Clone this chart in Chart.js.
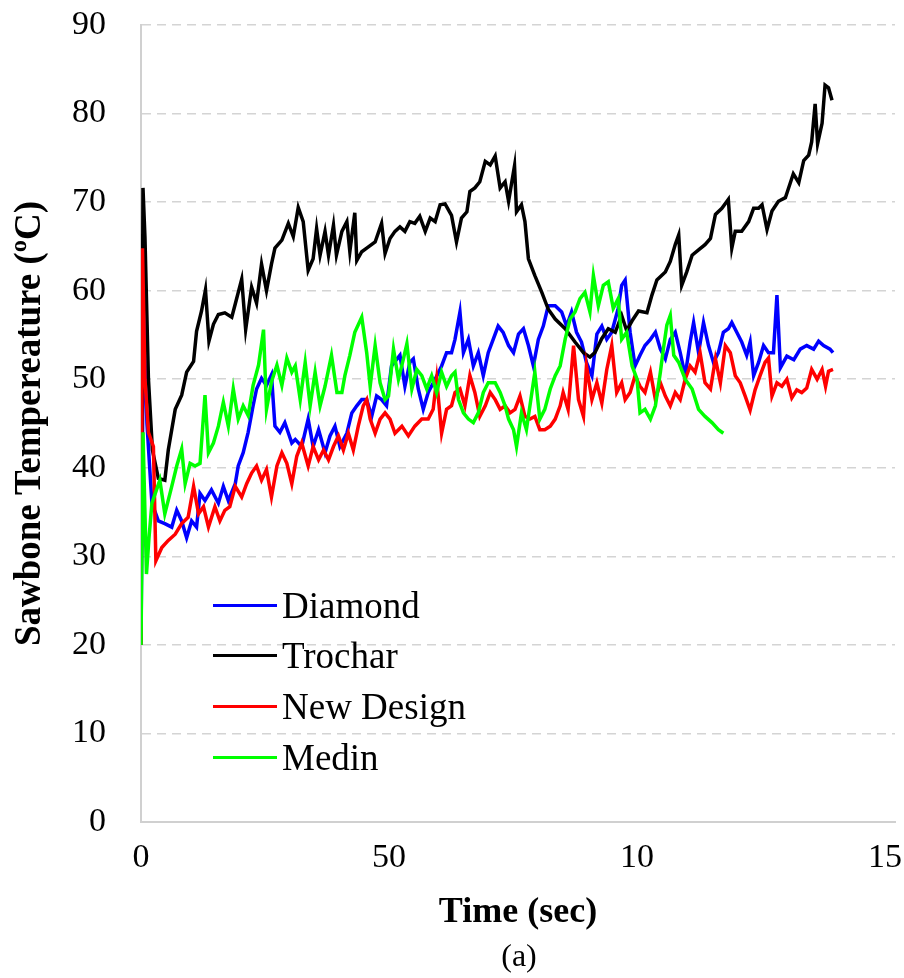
<!DOCTYPE html>
<html>
<head>
<meta charset="utf-8">
<script src="https://cdn.jsdelivr.net/npm/chart.js@4.4.1/dist/chart.umd.min.js"></script>
<style>
  body { margin: 0; background: #fff; }
  #wrap { position: relative; width: 904px; height: 978px; }
  #chart { position: absolute; left: 0; top: 0; }
  .leg { position: absolute; left: 213px; height: 50px; display: flex; align-items: center;
         font-family: "Liberation Serif", "Times New Roman", serif; font-size: 37px; color: #000; }
  .leg span.sw { display: inline-block; width: 64px; height: 3px; margin-right: 5px; }
  #cap { position: absolute; left: 0; width: 1038px; top: 936px; text-align: center;
         font-family: "Liberation Serif", "Times New Roman", serif; font-size: 32px; line-height: 38px; }
</style>
</head>
<body>
<div id="wrap">
  <canvas id="chart" width="904" height="978"></canvas>
  <div id="legend"></div>
  <div id="cap">(a)</div>
</div>
<script>
// x axis ticks (the picture labels 100 and 150 as "10" and "15")
const xTickValues = [0, 50, 100, 150];
const xTickLabels = ["0", "50", "10", "15"];

const seriesNames = ["Diamond", "Trochar", "New Design", "Medin"];
const seriesColors = ["#0000ff", "#000000", "#ff0000", "#00ff00"];

const diamondTime = [0, 0.5, 1.2, 2.2, 3.5, 4.8, 6.2, 7.2, 8.2, 9.2, 10.2, 11.2, 11.9, 12.9, 14.2, 15.6, 16.6, 17.6, 19.0, 19.6, 20.6, 21.6, 22.6, 23.3, 24.3, 25.3, 26.3, 27.0, 28.0, 29.0, 30.4,
  31.1, 32.4, 33.7, 34.7, 35.8, 37.1, 38.1, 39.1, 40.1, 41.5, 42.5, 43.5, 44.5, 45.5, 46.5, 47.5, 48.5, 49.5, 50.5, 52.2, 53.2, 54.2, 54.9, 55.9, 56.9, 57.9, 59.3, 60.6, 61.6, 62.6,
  63.3, 64.3, 65.0, 66.0, 67.0, 68.0, 69.0, 70.0, 71.0, 72.0, 73.0, 74.1, 75.1, 76.1, 77.1, 78.1, 79.1, 80.1, 81.1, 82.1, 83.5, 84.8, 85.8, 86.8, 87.8, 88.8, 89.8, 90.9, 91.9, 92.9, 93.9, 94.9, 96.2,
  96.9, 97.6, 98.6, 99.6, 100.6, 101.6, 102.7, 103.7, 104.7, 105.7, 106.7, 107.7, 108.7, 109.7, 110.7, 111.4, 112.4, 113.4, 114.4, 115.4, 116.4, 117.4, 118.4, 119.1, 120.1, 121.1, 122.1, 122.8, 123.5, 124.5, 125.5, 126.5, 127.5, 128.2, 128.9,
  130.2, 131.6, 132.9, 134.2, 135.6, 136.6, 137.6, 138.9, 139.5];
const diamondTemp = [20, 58, 45, 36, 34, 33.7, 33.3, 35.2, 34, 32.1, 34, 33.3, 37.1, 36.3, 37.5, 36, 37.9, 36.3, 38.2, 40.2, 41.7, 44, 47, 48.9, 50.1, 49.3, 50.5, 44.7, 44, 45.1, 42.8,
  43.2, 42.4, 45.5, 42.4, 44.3, 41.7, 43.6, 44.7, 42.4, 43.9, 46.2, 47, 47.7, 47.7, 45.8, 48.1, 47.7, 47, 51.5, 52.7, 49.2, 51.9, 52.3, 48.9, 46.6, 48.5, 50, 51.5, 53, 53,
  54.5, 57.6, 53, 54.5, 51.5, 53, 50.4, 53, 54.5, 56, 55.3, 53.8, 53, 55.1, 55.7, 53.8, 51.5, 54.5, 56, 58.3, 58.3, 57.6, 56, 57.6, 55.3, 54.2, 51.9, 50.4, 55.1, 56, 54.5, 55.3, 58,
  60.6, 61.2, 55.3, 51.5, 52.7, 53.8, 54.5, 55.3, 53.4, 52.3, 54.5, 55.3, 53, 50.4, 54.2, 56.4, 53, 56.4, 53.8, 51.9, 53, 55.3, 55.7, 56.4, 55.3, 54.2, 52.7, 54.2, 50.4, 51.9, 53.8, 53, 53, 59.5, 51.3,
  52.6, 52.2, 53.4, 53.8, 53.4, 54.3, 53.8, 53.4, 53];

const trocharTime = [0, 0.4, 0.8, 1.5, 2.3, 3.5, 4.8, 5.5, 6.9, 8.2, 9.2, 10.6, 11.2, 12.2, 13.0, 13.7, 14.6, 15.6, 16.9, 18.3, 19.0, 20.3, 21.1, 22.3, 23.3, 24.3, 25.3, 26.3, 27.0, 28.4, 29.7, 30.7, 31.7,
  32.7, 33.7, 34.7, 35.4, 36.1, 37.1, 37.8, 38.8, 39.4, 40.5, 41.5, 42.1, 43.1, 43.5, 44.5, 45.5, 47.2, 48.5, 49.2, 50.2, 51.2, 52.2, 53.2, 54.2, 55.2, 56.2, 57.3, 58.3, 59.3, 60.3, 61.3, 62.6, 63.6, 64.6,
  65.7, 66.3, 67.3, 68.3, 69.4, 70.4, 71.4, 72.4, 73.4, 74.1, 75.3, 75.7, 76.7, 77.4, 78.1, 79.4, 80.8, 82.1, 83.5, 85.5, 87.5, 89.2, 90.5, 91.5, 92.9, 94.2, 95.6, 96.9,
  97.9, 99.0, 100.3, 102.0, 103.0, 104.0, 105.7, 106.7, 107.7, 108.4, 109.0, 110.0, 111.1, 112.4, 113.7, 114.8, 115.8, 117.1, 118.4, 119.1, 119.8, 121.1, 122.5, 123.5, 124.5, 125.2, 126.2, 127.2, 128.5, 129.9,
  131.5, 132.6, 133.6, 134.6, 135.2, 135.9, 136.4, 137.3, 137.9, 138.6, 139.3];
const trocharTemp = [20, 71.6, 66, 50, 42, 38.8, 38.6, 42, 46.6, 48.2, 50.8, 52, 55.4, 57.7, 60.1, 54.3, 56.2, 57.3, 57.5, 57, 58.5, 61.3, 55.6, 60.4, 58.6, 63, 60, 63, 64.8, 65.7, 67.6, 66.1, 69.4,
  67.8, 62.3, 63.6, 67, 64, 66.7, 64, 67.4, 64, 66.7, 67.8, 64.4, 68.8, 63.4, 64.4, 64.8, 65.5, 67.6, 64.2, 65.9, 66.7, 67.2, 66.7, 67.8, 67.6, 68.4, 66.7, 68.2, 67.8, 69.7, 69.8, 68.5, 65.5, 68.2,
  68.9, 71.2, 71.6, 72.3, 74.6, 74.2, 75.2, 71.6, 72.3, 70.1, 74.1, 68.9, 69.7, 67.8, 63.6, 61.7, 59.8, 57.9, 56.8, 55.7, 54.2, 53, 52.5, 53, 54.6, 55.7, 55.3, 57.2,
  55.5, 56.6, 57.7, 57.5, 59.5, 61.2, 62.1, 63.3, 65.2, 66.3, 60.6, 62.1, 64, 64.6, 65.2, 65.9, 68.6, 69.3, 70.3, 64.8, 66.7, 66.7, 67.8, 69.3, 69.3, 69.7, 66.9, 69, 70.1, 70.5,
  73.2, 72.2, 74.7, 75.3, 76.8, 81.1, 76.6, 78.9, 83.2, 82.9, 81.5];

const newDesignTime = [0, 0.3, 0.8, 1.5, 2.5, 3.0, 4.2, 5.5, 6.9, 8.2, 9.5, 10.6, 11.6, 12.6, 13.6, 14.9, 15.9, 16.9, 17.9, 19.0, 20.3, 21.3, 22.3, 23.3, 24.3, 25.3, 26.3, 27.4, 28.4, 29.4, 30.4, 31.4, 32.4,
  33.7, 34.7, 35.8, 36.8, 37.8, 38.8, 39.8, 40.8, 41.8, 42.8, 43.8, 44.8, 45.5, 46.2, 47.2, 48.2, 49.2, 50.2, 51.2, 52.6, 53.9, 55.2, 56.6, 57.9, 58.9, 59.6, 60.6, 61.6, 62.6,
  63.3, 64.3, 65.3, 66.3, 67.3, 68.3, 69.4, 70.4, 71.4, 72.4, 73.4, 74.4, 75.4, 76.4, 77.4, 78.4, 79.4, 80.4, 81.4, 82.5, 83.5, 84.5, 85.1, 86.1, 87.2, 88.2, 89.2, 89.8, 90.9, 91.9, 92.9, 93.9, 94.9, 95.9, 96.9,
  97.6, 98.6, 99.6, 100.6, 101.6, 102.7, 103.7, 104.7, 105.7, 106.7, 107.7, 108.7, 109.7, 110.7, 111.7, 112.7, 113.7, 114.8, 115.8, 116.8, 117.8, 118.8, 119.8,
  120.8, 121.8, 122.8, 123.8, 124.8, 125.8, 126.5, 127.2, 128.2, 129.2, 130.2, 131.2, 132.2, 133.2, 134.2, 135.2, 136.3, 137.3, 138.0, 138.6, 139.5];
const newDesignTemp = [20, 64.8, 50, 44, 42.4, 29.5, 31, 31.8, 32.5, 33.7, 34.4, 37.9, 34.8, 35.6, 33.3, 35.6, 34, 35.2, 35.6, 37.9, 36.7, 38.2, 39.4, 40.2, 38.6, 39.8, 36.7, 40.2, 41.7, 40.5, 38.2, 41.3, 42.8,
  40.2, 42.4, 40.9, 42, 40.9, 42.4, 43.6, 42, 43.9, 42, 44.7, 47, 47.7, 45.5, 43.9, 45.5, 46.2, 45.5, 43.9, 44.7, 43.6, 44.7, 45.5, 45.5, 46.6, 50, 43.9, 46.6, 47,
  48.5, 48.9, 47, 50.4, 48.5, 45.8, 47, 48.5, 47.7, 46.6, 47, 46.2, 46.6, 48.1, 45.8, 45.5, 45.8, 44.3, 44.3, 44.7, 45.5, 47, 48.5, 46.6, 53.8, 47.7, 45.8, 51.5, 47.7, 49.6, 47.3, 51.1, 53.8, 48.5, 49.6,
  47.7, 48.5, 50.4, 49.2, 48.5, 50.8, 47.7, 49.6, 48.1, 47, 48.5, 47.7, 50, 51.5, 50.8, 53, 49.6, 48.9, 52.3, 49.6, 53.8, 53, 50.4,
  49.6, 48.1, 46.5, 48.8, 50.4, 51.9, 52.4, 48.1, 49.6, 49.2, 50, 47.9, 48.8, 48.5, 49, 51.1, 50, 51.1, 49.2, 50.9, 51.1];

const medinTime = [0, 0.4, 1.1, 1.6, 2.2, 3.8, 4.8, 6.2, 7.2, 8.2, 8.9, 9.9, 10.9, 11.9, 12.9, 13.6, 14.6, 15.6, 16.6, 17.6, 18.6, 19.6, 20.6, 21.6, 22.6, 23.7, 24.7, 25.3, 26.3, 27.4, 28.4, 29.4, 30.4,
  31.1, 32.1, 33.1, 34.1, 35.1, 36.1, 37.1, 38.4, 39.5, 40.5, 41.1, 42.1, 43.1, 44.5, 45.5, 46.2, 47.2, 48.2, 49.2, 49.9, 50.9, 51.9, 52.9, 53.6, 54.6, 55.6, 56.6, 57.6, 58.6, 59.6, 60.6, 61.6, 62.6, 63.3,
  64.0, 65.0, 66.0, 67.0, 68.0, 69.0, 70.0, 71.4, 72.4, 73.4, 74.1, 75.1, 75.7, 76.7, 77.7, 78.8, 79.4, 80.4, 81.4, 82.5, 83.5, 84.5, 85.5, 86.5, 87.5, 88.5, 89.5, 90.5, 91.2, 92.2, 93.2, 94.2, 95.2, 96.2, 96.9,
  97.9, 99.0, 100.0, 100.6, 101.6, 102.7, 103.7, 104.7, 105.3, 106.0, 106.7, 107.4, 108.4, 109.7, 111.1, 112.4, 113.7, 115.1, 116.4, 117.4];
const medinTemp = [20, 44, 28, 32, 36, 38.6, 34.8, 37.9, 40.2, 42.1, 38.2, 40.5, 40.2, 40.5, 48.2, 41.7, 42.8, 44.7, 47.4, 44.7, 48.9, 45.5, 47, 45.9, 49.3, 51.6, 55.6, 46.6, 49.7, 51.6, 49.3, 52.4, 50.8,
  51.5, 47.7, 51.9, 47, 50.8, 47, 49.2, 52.7, 48.5, 48.5, 50.4, 52.7, 55.3, 57, 53, 49.2, 53.8, 49.6, 47.7, 48.1, 53.4, 50, 52.3, 54, 48.9, 51.1, 50.4, 48.9, 50.4, 48.5, 50.8, 49.2, 50.4, 50.8,
  47.7, 46.2, 45.5, 45.1, 46.2, 48.5, 49.6, 49.6, 48.5, 47, 45.5, 44.3, 42.4, 46.2, 44.3, 48.5, 50.8, 45.5, 46.6, 48.9, 50.4, 51.5, 54.5, 56.8, 57.6, 59.1, 59.8, 57.6, 61.7, 58.3, 60.6, 61, 58, 59.1, 54.5,
  55.3, 51.5, 50, 46.2, 46.6, 45.5, 47, 50.8, 53.4, 56.1, 57.2, 52.7, 51.9, 50, 48.9, 46.6, 45.8, 45.1, 44.3, 43.9];

const serif = "'Liberation Serif', 'Times New Roman', serif";

function pairs(xs, ys) {
  return xs.map((x, i) => ({ x: x, y: ys[i] }));
}

const allSeries = [
  pairs(diamondTime, diamondTemp),
  pairs(trocharTime, trocharTemp),
  pairs(newDesignTime, newDesignTemp),
  pairs(medinTime, medinTemp),
];

// green drawn on top, blue at the bottom
const drawOrder = [4, 3, 2, 1];

const datasets = allSeries.map((pts, i) => ({
  label: seriesNames[i],
  data: pts,
  borderColor: seriesColors[i],
  backgroundColor: seriesColors[i],
  borderWidth: 3.5,
  pointRadius: 0,
  tension: 0,
  fill: false,
  order: drawOrder[i],
}));

new Chart(document.getElementById("chart"), {
  type: "line",
  data: { datasets: datasets },
  options: {
    responsive: false,
    animation: false,
    layout: { padding: { left: 0, right: 9, top: 25, bottom: 44 } },
    plugins: { legend: { display: false }, tooltip: { enabled: false } },
    scales: {
      x: {
        type: "linear",
        min: 0,
        max: 152,
        afterBuildTicks: (scale) => { scale.ticks = xTickValues.map((v) => ({ value: v })); },
        afterFit: (scale) => { scale.height = 112; },
        ticks: {
          autoSkip: false,
          maxRotation: 0,
          padding: 0,
          color: "#000",
          font: { family: serif, size: 34 },
          callback: (v) => xTickLabels[xTickValues.indexOf(v)],
        },
        grid: { drawOnChartArea: false, drawTicks: true, tickLength: 16, tickColor: "rgba(0,0,0,0)" },
        border: { display: true, color: "#d0d0d0", width: 2 },
        title: {
          display: true,
          text: "Time (sec)",
          color: "#000",
          font: { family: serif, size: 36, weight: "bold" },
          padding: { top: 0, bottom: 0 },
        },
      },
      y: {
        min: 0,
        max: 90,
        afterFit: (scale) => { scale.width = 141; },
        ticks: { stepSize: 10, padding: 0, color: "#000", font: { family: serif, size: 34 } },
        grid: { color: "#d4d4d4", lineWidth: 1.5, drawTicks: true, tickLength: 35, tickColor: "rgba(0,0,0,0)" },
        border: { display: true, color: "#d0d0d0", width: 2, dash: [9, 6] },
        title: {
          display: true,
          text: "Sawbone Tempereature (ºC)",
          color: "#000",
          font: { family: serif, size: 37, weight: "bold" },
          padding: { top: 8, bottom: 0 },
        },
      },
    },
  },
});

// legend sits inside the plot, lower left
const legendRows = [605, 655, 706, 757];
const legendBox = document.getElementById("legend");
seriesNames.forEach((name, i) => {
  const row = document.createElement("div");
  row.className = "leg";
  row.style.top = (legendRows[i] - 25) + "px";
  row.innerHTML = `<span class="sw" style="background:${seriesColors[i]}"></span>${name}`;
  legendBox.appendChild(row);
});
</script>
</body>
</html>
